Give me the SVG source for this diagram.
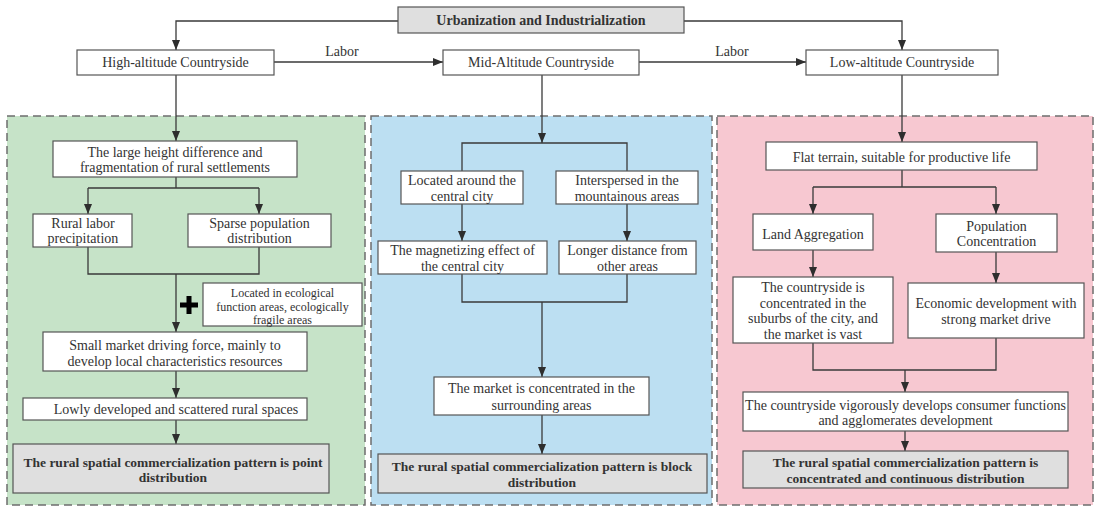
<svg xmlns="http://www.w3.org/2000/svg" width="1097" height="507" viewBox="0 0 1097 507">
<style>
text{font-family:"Liberation Serif","Times New Roman",serif;font-size:14px;fill:#333;text-anchor:middle}
.b{font-weight:bold;font-size:13.5px}
.s{font-size:12px}
.box{fill:#fff;stroke:#555;stroke-width:1.2}
.gbox{fill:#dfdfdf;stroke:#555;stroke-width:1.2}
.panel{stroke:#6e6e6e;stroke-width:1.5;stroke-dasharray:8 5}
.ln{fill:none;stroke:#3a3a3a;stroke-width:1.3}
.ar{fill:none;stroke:#3a3a3a;stroke-width:1.3;marker-end:url(#ah)}
</style>
<defs>
<marker id="ah" viewBox="0 0 10 8" refX="10" refY="4" markerWidth="10" markerHeight="8" markerUnits="userSpaceOnUse" orient="auto">
<path d="M0,0 L10,4 L0,8 Z" fill="#2e2e2e"/>
</marker>
</defs>
<rect width="1097" height="507" fill="#fff"/>
<g id="panels">
<rect class="panel" x="7" y="116" width="358" height="389" fill="#c6e3c8"/>
<rect class="panel" x="371" y="116" width="341" height="389" fill="#bcdff2"/>
<rect class="panel" x="717" y="116" width="376" height="389" fill="#f7c8d1"/>
</g>
<g id="connectors">
<path class="ar" d="M398,21 H176 V50"/>
<path class="ar" d="M684,21 H902 V50"/>
<path class="ar" d="M274,62 H443"/>
<path class="ar" d="M639,62 H806"/>
<text x="342" y="56">Labor</text>
<text x="732" y="56">Labor</text>
<path class="ar" d="M176,75 V141"/>
<path class="ln" d="M176,177 V188 M88,188 H259"/>
<path class="ar" d="M88,188 V214"/>
<path class="ar" d="M259,188 V214"/>
<path class="ln" d="M88,247 V274 H259 V247"/>
<path class="ar" d="M176,274 V332"/>
<path class="ar" d="M176,371 V398"/>
<path class="ar" d="M176,420 V444"/>
<path d="M189,296 V314 M180,305 H198" stroke="#000" stroke-width="5" fill="none"/>
<path class="ar" d="M542,75 V143"/>
<path class="ln" d="M462,171 V143 H627 V171"/>
<path class="ar" d="M462,204 V241"/>
<path class="ar" d="M627,204 V241"/>
<path class="ln" d="M462,274 V302 H627 V274"/>
<path class="ar" d="M542,302 V377"/>
<path class="ar" d="M542,415 V454"/>
<path class="ar" d="M902,75 V142"/>
<path class="ln" d="M902,170 V187 M813,187 H996"/>
<path class="ar" d="M813,187 V214"/>
<path class="ar" d="M996,187 V214"/>
<path class="ar" d="M813,250 V277"/>
<path class="ar" d="M996,252 V283"/>
<path class="ln" d="M813,343 V370 H996 V338"/>
<path class="ar" d="M905,370 V392"/>
<path class="ar" d="M905,431 V451"/>
</g>
<g id="n-top"><rect class="gbox" x="398" y="7" width="286" height="26"/><text class="b" x="541" y="25" style="font-size:14px">Urbanization and Industrialization</text></g>
<g id="n-high"><rect class="box" x="77" y="50" width="197" height="25"/><text x="175.5" y="67">High-altitude Countryside</text></g>
<g id="n-mid"><rect class="box" x="443" y="50" width="196" height="25"/><text x="541" y="67">Mid-Altitude Countryside</text></g>
<g id="n-low"><rect class="box" x="806" y="50" width="192" height="25"/><text x="902" y="67">Low-altitude Countryside</text></g>

<g id="g1"><rect class="box" x="53" y="141" width="244" height="36"/><text x="175" y="157">The large height difference and</text><text x="175" y="172">fragmentation of rural settlements</text></g>
<g id="g2"><rect class="box" x="33" y="214" width="99" height="33"/><text x="83" y="228">Rural labor</text><text x="83" y="243">precipitation</text></g>
<g id="g3"><rect class="box" x="188" y="214" width="143" height="33"/><text x="259.5" y="228">Sparse population</text><text x="259.5" y="243">distribution</text></g>
<g id="g4"><rect class="box" x="203" y="283" width="159" height="43"/><text class="s" x="282.5" y="297">Located in ecological</text><text class="s" x="282.5" y="310.5">function areas, ecologically</text><text class="s" x="282.5" y="324">fragile areas</text></g>
<g id="g5"><rect class="box" x="43" y="332" width="264" height="39"/><text x="175" y="350">Small market driving force, mainly to</text><text x="175" y="366">develop local characteristics resources</text></g>
<g id="g6"><rect class="box" x="23" y="398" width="284" height="22"/><text x="176" y="414">Lowly developed and scattered rural spaces</text></g>
<g id="g7"><rect class="gbox" x="13" y="444" width="316" height="49"/><text class="b" x="173" y="467">The rural spatial commercialization pattern is point</text><text class="b" x="173" y="482">distribution</text></g>

<g id="b1"><rect class="box" x="401" y="171" width="122" height="33"/><text x="462" y="185">Located around the</text><text x="462" y="201">central city</text></g>
<g id="b2"><rect class="box" x="556" y="171" width="142" height="33"/><text x="627" y="185">Interspersed in the</text><text x="627" y="201">mountainous areas</text></g>
<g id="b3"><rect class="box" x="378" y="241" width="169" height="33"/><text x="462.5" y="255">The magnetizing effect of</text><text x="462.5" y="271">the central city</text></g>
<g id="b4"><rect class="box" x="559" y="241" width="137" height="33"/><text x="627.5" y="255">Longer distance from</text><text x="627.5" y="271">other areas</text></g>
<g id="b5"><rect class="box" x="434" y="377" width="215" height="38"/><text x="541.5" y="393">The market is concentrated in the</text><text x="541.5" y="410">surrounding areas</text></g>
<g id="b6"><rect class="gbox" x="378" y="454" width="329" height="39"/><text class="b" x="542" y="471">The rural spatial commercialization pattern is block</text><text class="b" x="542" y="487">distribution</text></g>

<g id="p1"><rect class="box" x="766" y="142" width="271" height="28"/><text x="901.5" y="162">Flat terrain, suitable for productive life</text></g>
<g id="p2"><rect class="box" x="753" y="214" width="120" height="36"/><text x="813" y="239">Land Aggregation</text></g>
<g id="p3"><rect class="box" x="936" y="214" width="121" height="38"/><text x="996.5" y="231">Population</text><text x="996.5" y="246">Concentration</text></g>
<g id="p4"><rect class="box" x="733" y="277" width="160" height="66"/><text x="813" y="292">The countryside is</text><text x="813" y="307.5">concentrated in the</text><text x="813" y="323">suburbs of the city, and</text><text x="813" y="338.5">the market is vast</text></g>
<g id="p5"><rect class="box" x="908" y="283" width="176" height="55"/><text x="996" y="308">Economic development with</text><text x="996" y="324">strong market drive</text></g>
<g id="p6"><rect class="box" x="743" y="392" width="325" height="39"/><text x="905.5" y="410">The countryside vigorously develops consumer functions</text><text x="905.5" y="425">and agglomerates development</text></g>
<g id="p7"><rect class="gbox" x="743" y="451" width="325" height="37"/><text class="b" x="905.5" y="467">The rural spatial commercialization pattern is</text><text class="b" x="905.5" y="483">concentrated and continuous distribution</text></g>
</svg>
